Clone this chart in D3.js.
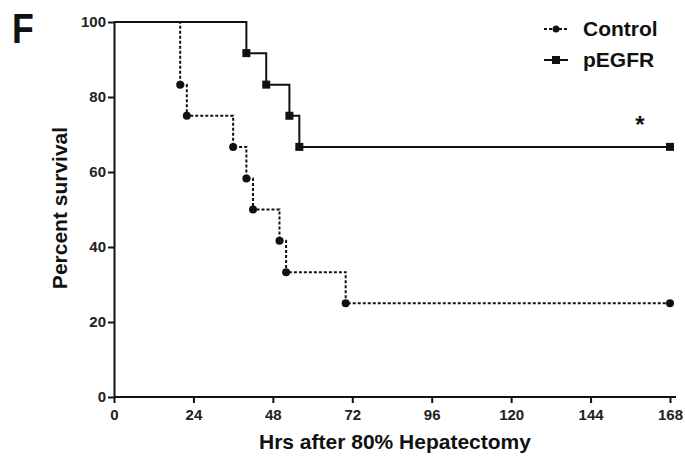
<!DOCTYPE html>
<html>
<head lang="en">
	<meta charset="UTF-8">
	<title>Survival</title>
	<style>
	body { margin: 0; background: #fff; }
	text { font-family: Arial, "Liberation Sans", sans-serif; fill: #111; }
	.axis path, .axis line { stroke: #111; stroke-width: 2; }
	.axis text { font-size: 15px; font-weight: bold; fill: #222; }
	</style>
	<script src="https://cdn.jsdelivr.net/npm/d3@7"></script>
</head>
<body>
<script>
	// Kaplan-Meier curves, event times (hrs) and survival (%)
	var controlTimes = [0, 20, 22, 36, 40, 42, 50, 52, 70, 168];
	var controlSurv  = [100, 83.3, 75, 66.7, 58.3, 50, 41.7, 33.3, 25, 25];
	var egfrTimes = [0, 40, 46, 53, 56, 168];
	var egfrSurv  = [100, 91.7, 83.3, 75, 66.7, 66.7];
	var xTicks = [0, 24, 48, 72, 96, 120, 144, 168];
	var yTicks = [0, 20, 40, 60, 80, 100];

	var width = 685, height = 456;
	var svg = d3.select("body").append("svg")
		.attr("width", width)
		.attr("height", height);

	var x = d3.scaleLinear().domain([0, 168]).range([114, 670]);
	var y = d3.scaleLinear().domain([0, 100]).range([397, 22]);

	// axes
	var xAxis = svg.append("g").attr("class", "axis")
		.attr("transform", "translate(0," + y(0) + ")")
		.call(d3.axisBottom(x).tickValues(xTicks).tickSize(6).tickPadding(6).tickSizeOuter(0));
	xAxis.select(".domain").attr("d", "M" + x(0) + ",0H" + (x(168) + 6));

	var yAxis = svg.append("g").attr("class", "axis")
		.attr("transform", "translate(" + x(0) + ",0)")
		.call(d3.axisLeft(y).tickValues(yTicks).tickSize(6).tickPadding(2).tickSizeOuter(0));

	function points(ts, ss) {
		return ts.map(function(t, i){ return [t, ss[i]]; });
	}
	var line = d3.line()
		.x(function(d){ return x(d[0]); })
		.y(function(d){ return y(d[1]); })
		.curve(d3.curveStepAfter);

	var control = points(controlTimes, controlSurv);
	var egfr = points(egfrTimes, egfrSurv);

	svg.append("path").datum(control)
		.attr("d", line)
		.attr("fill", "none")
		.attr("stroke", "#111")
		.attr("stroke-width", 2)
		.attr("stroke-dasharray", "3,2");

	svg.append("path").datum(egfr)
		.attr("d", line)
		.attr("fill", "none")
		.attr("stroke", "#111")
		.attr("stroke-width", 2);

	// markers (skip the starting point)
	svg.selectAll("circle.ctl")
		.data(control.slice(1))
		.enter().append("circle")
		.attr("class", "ctl")
		.attr("cx", function(d){ return x(d[0]); })
		.attr("cy", function(d){ return y(d[1]); })
		.attr("r", 4)
		.attr("fill", "#111");

	svg.selectAll("rect.egfr")
		.data(egfr.slice(1))
		.enter().append("rect")
		.attr("class", "egfr")
		.attr("x", function(d){ return x(d[0]) - 4; })
		.attr("y", function(d){ return y(d[1]) - 4; })
		.attr("width", 8)
		.attr("height", 8)
		.attr("fill", "#111");

	// labels
	svg.append("text")
		.attr("x", 395)
		.attr("y", 449)
		.attr("text-anchor", "middle")
		.style("font-size", "21px")
		.style("font-weight", "bold")
		.text("Hrs after 80% Hepatectomy");

	svg.append("text")
		.attr("transform", "translate(67,208)rotate(-90)")
		.attr("text-anchor", "middle")
		.style("font-size", "21px")
		.style("font-weight", "bold")
		.text("Percent survival");

	svg.append("text")
		.attr("transform", "translate(12,43)scale(0.85,1)")
		.style("font-size", "42px")
		.style("font-weight", "bold")
		.text("F");

	svg.append("text")
		.attr("x", 640)
		.attr("y", 133)
		.attr("text-anchor", "middle")
		.style("font-size", "24px")
		.style("font-weight", "bold")
		.text("*");

	// legend
	var legend = [
		{name: "Control", y: 29, dash: "3,2"},
		{name: "pEGFR", y: 60, dash: null}
	];
	var lg = svg.selectAll("g.legend")
		.data(legend)
		.enter().append("g")
		.attr("class", "legend")
		.attr("transform", function(d){ return "translate(544," + d.y + ")"; });
	lg.append("line")
		.attr("x1", 0).attr("x2", 24)
		.attr("stroke", "#111")
		.attr("stroke-width", 2)
		.attr("stroke-dasharray", function(d){ return d.dash; });
	lg.filter(function(d, i){ return i === 0; }).append("circle")
		.attr("cx", 12).attr("r", 3.5).attr("fill", "#111");
	lg.filter(function(d, i){ return i === 1; }).append("rect")
		.attr("x", 8).attr("y", -4).attr("width", 8).attr("height", 8).attr("fill", "#111");
	lg.append("text")
		.attr("x", 39)
		.attr("y", 7)
		.style("font-size", "21px")
		.style("font-weight", "bold")
		.text(function(d){ return d.name; });
</script>
</body>
</html>
